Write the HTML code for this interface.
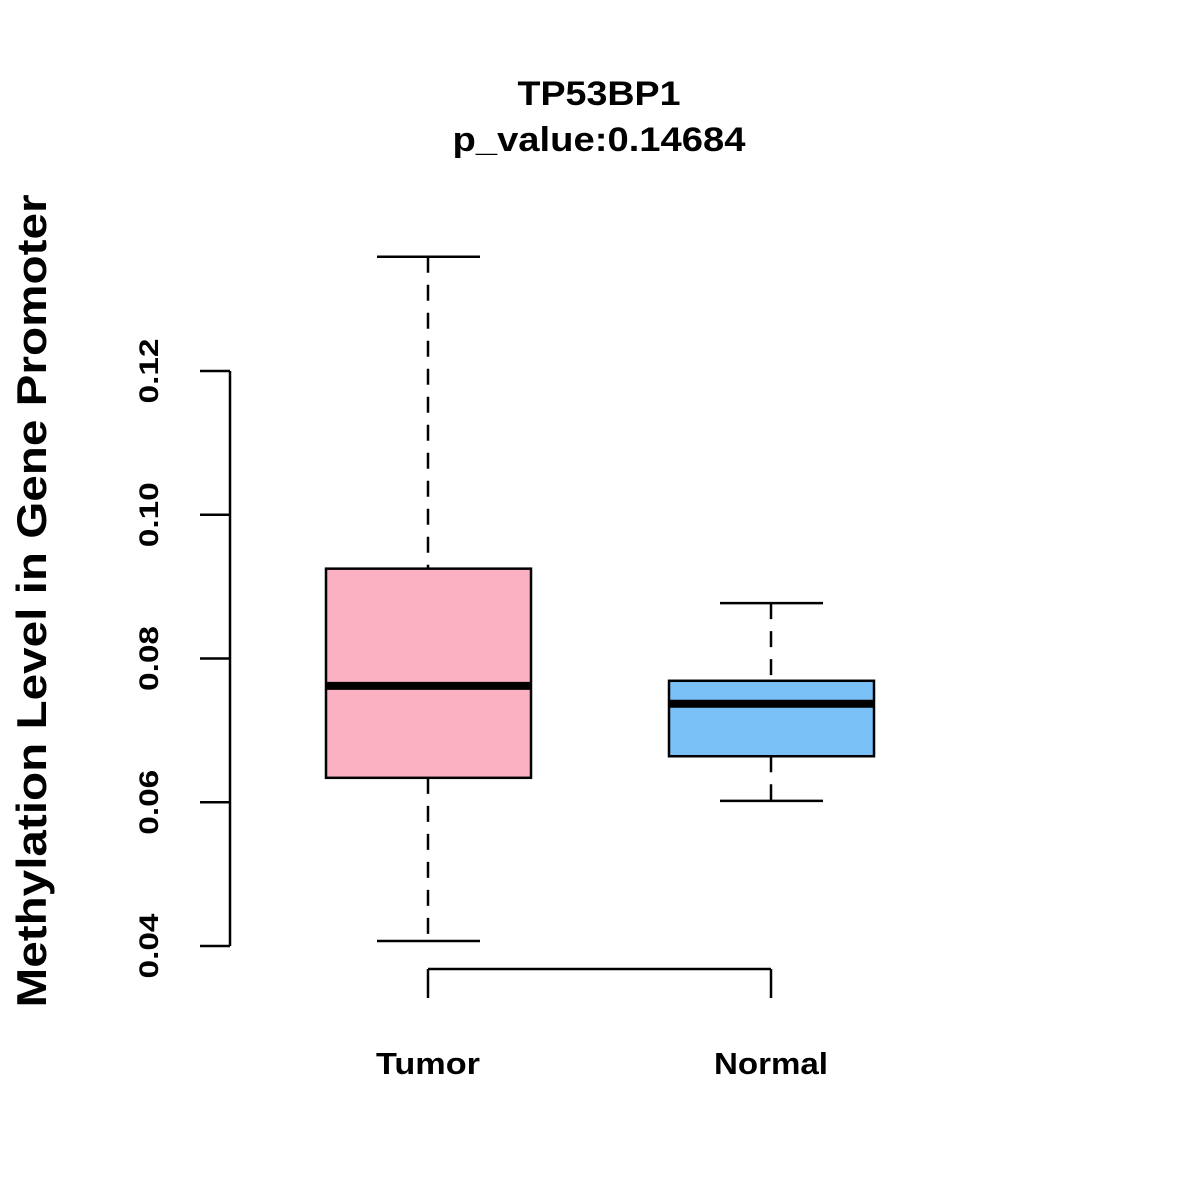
<!DOCTYPE html>
<html><head><meta charset="utf-8"><style>html,body{margin:0;padding:0;background:#fff}svg{display:block}text{font-family:"Liberation Sans",Arial,sans-serif;font-weight:bold;fill:#000}</style></head>
<body>
<svg id="chart" width="1200" height="1200" viewBox="0 0 1200 1200" xmlns="http://www.w3.org/2000/svg">
<text x="599" y="105" font-size="34" text-anchor="middle" textLength="163" lengthAdjust="spacingAndGlyphs">TP53BP1</text>
<text x="599" y="151" font-size="34" text-anchor="middle" textLength="293" lengthAdjust="spacingAndGlyphs">p_value:0.14684</text>
<text transform="translate(46,601) rotate(-90)" font-size="42" text-anchor="middle" textLength="813" lengthAdjust="spacingAndGlyphs">Methylation Level in Gene Promoter</text>
<g id="yaxis"></g>
<g id="xaxis"></g>
<g id="boxes"></g>
</svg>
<script>
const categories = ["Tumor", "Normal"];
const mins = [0.0407, 0.0602];
const q1s = [0.0634, 0.0664];
const medians = [0.0762, 0.0737];
const q3s = [0.0925, 0.0769];
const maxs = [0.1359, 0.0877];
const colors = ["#fcb1c3", "#79c1f7"];
const yTicks = [0.04, 0.06, 0.08, 0.10, 0.12];
const yTickLabels = ["0.04", "0.06", "0.08", "0.10", "0.12"];

const NS = "http://www.w3.org/2000/svg";
function y(v){ return 946 - (v - 0.04) / 0.02 * 143.75; }
function x(i){ return 428 + i * 343; }
function mk(tag, attrs, parent){
  const e = document.createElementNS(NS, tag);
  for (const k in attrs) e.setAttribute(k, attrs[k]);
  parent.appendChild(e); return e;
}
const ya = document.getElementById('yaxis');
const ln = mk('line', {x1:230, x2:230, y1:y(yTicks[0]), y2:y(yTicks[yTicks.length-1]), stroke:'#000', 'stroke-width':2.5}, ya);


yTicks.forEach((t, i) => {
  const tk = mk('line', {x1:200, x2:230, y1:y(t), y2:y(t), stroke:'#000', 'stroke-width':2.5}, ya);
  
  
  const tx = mk('text', {transform:`translate(158,${y(t)}) rotate(-90)`, 'font-size':27, 'text-anchor':'middle', textLength:65, lengthAdjust:'spacingAndGlyphs'}, ya);
  tx.textContent = yTickLabels[i];
  
  
});
const xLabelWidths = [104, 114];
const xa = document.getElementById('xaxis');
const xl = mk('line', {x1:x(0), x2:x(categories.length-1), y1:969, y2:969, stroke:'#000', 'stroke-width':2.5}, xa);


categories.forEach((c, i) => {
  const tk = mk('line', {x1:x(i), x2:x(i), y1:969, y2:998, stroke:'#000', 'stroke-width':2.5}, xa);
  
  
  const tx = mk('text', {x:x(i), y:1074, 'font-size':31, 'text-anchor':'middle', textLength:xLabelWidths[i], lengthAdjust:'spacingAndGlyphs'}, xa);
  tx.textContent = c;
  
  
});
const bx = document.getElementById('boxes');
categories.forEach((c, i) => {
  const g = mk('g', {}, bx);
  
  
  const cx = x(i);
  mk('line', {x1:cx, x2:cx, y1:y(maxs[i]), y2:y(q3s[i]), stroke:'#000', 'stroke-width':2.5, 'stroke-dasharray':'16,12'}, g);
  mk('line', {x1:cx, x2:cx, y1:y(q1s[i]), y2:y(mins[i]), stroke:'#000', 'stroke-width':2.5, 'stroke-dasharray':'16,12'}, g);
  mk('line', {x1:cx-51, x2:cx+52, y1:y(maxs[i]), y2:y(maxs[i]), stroke:'#000', 'stroke-width':2.5}, g);
  mk('line', {x1:cx-51, x2:cx+52, y1:y(mins[i]), y2:y(mins[i]), stroke:'#000', 'stroke-width':2.5}, g);
  mk('rect', {x:cx-102, y:y(q3s[i]), width:205, height:y(q1s[i])-y(q3s[i]), fill:colors[i], stroke:'#000', 'stroke-width':2.5}, g);
  mk('line', {x1:cx-102, x2:cx+103, y1:y(medians[i]), y2:y(medians[i]), stroke:'#000', 'stroke-width':8}, g);
});
</script>
</body></html>
